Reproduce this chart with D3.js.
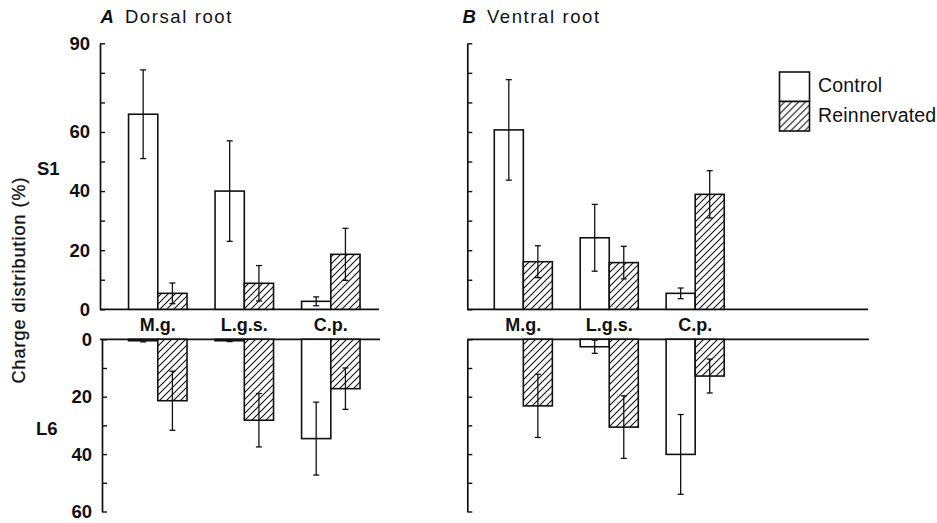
<!DOCTYPE html>
<html>
<head>
<meta charset="utf-8">
<script src="https://cdn.jsdelivr.net/npm/d3@7"></script>
<style>
  html, body { margin: 0; padding: 0; background: #fff; }
  svg { display: block; font-family: "Liberation Sans", Arial, sans-serif; }
</style>
</head>
<body>
<svg id="chart" width="937" height="523"></svg>
<script>
// ---------------- data ----------------
const categories = ["M.g.", "L.g.s.", "C.p."];
const seriesNames = ["Control", "Reinnervated"];

// Dorsal root
const dorsalS1Control = [66, 40, 2.7];
const dorsalS1ControlErr = [15, 17, 1.5];
const dorsalS1Reinn = [5.4, 8.8, 18.6];
const dorsalS1ReinnErr = [3.5, 6, 8.8];
const dorsalL6Control = [0.5, 0.5, 34.6];
const dorsalL6ControlErr = [0.4, 0.3, 12.7];
const dorsalL6Reinn = [21.4, 28.2, 17.2];
const dorsalL6ReinnErr = [10.3, 9.3, 7.2];

// Ventral root
const ventralS1Control = [60.7, 24.2, 5.4];
const ventralS1ControlErr = [17, 11.3, 1.8];
const ventralS1Reinn = [16.1, 15.8, 38.9];
const ventralS1ReinnErr = [5.4, 5.5, 8];
const ventralL6Control = [0, 2.6, 40.1];
const ventralL6ControlErr = [0, 2.3, 13.9];
const ventralL6Reinn = [23.2, 30.6, 12.8];
const ventralL6ReinnErr = [11, 10.9, 5.9];

const s1TickValues = [0, 10, 20, 30, 40, 50, 60, 70, 80, 90];
const s1TickLabels = [0, 20, 40, 60, 90];
const l6TickValues = [0, 10, 20, 30, 40, 50, 60];
const l6TickLabels = [0, 20, 40, 60];

const panelTitles = [["A", "Dorsal root"], ["B", "Ventral root"]];
const yAxisLabel = "Charge distribution (%)";
const rowLabels = ["S1", "L6"];

// ---------------- setup ----------------
const svg = d3.select("#chart");
const defs = svg.append("defs");
const pat = defs.append("pattern")
  .attr("id", "hatch").attr("patternUnits", "userSpaceOnUse")
  .attr("width", 7).attr("height", 7);
pat.append("rect").attr("width", 7).attr("height", 7).attr("fill", "#fff");
pat.append("path")
  .attr("d", "M-1,1 l2,-2 M0,7 l7,-7 M6,8 l2,-2")
  .attr("stroke", "#111").attr("stroke-width", 1.1);

const fillFor = s => s === "Control" ? "#fff" : "url(#hatch)";

const yS1 = d3.scaleLinear().domain([0, 90]).range([309.3, 43.3]);
const yL6 = d3.scaleLinear().domain([0, 60]).range([339.3, 511.5]);

const panels = [
  {
    x: d3.scaleBand().domain(categories).range([100, 388.6]).paddingInner(0.324).paddingOuter(0.33),
    axisXUpper: 100, axisXLower: 102, lineEnd: 379, labels: true,
    s1: [[dorsalS1Control, dorsalS1ControlErr], [dorsalS1Reinn, dorsalS1ReinnErr]],
    l6: [[dorsalL6Control, dorsalL6ControlErr], [dorsalL6Reinn, dorsalL6ReinnErr]],
    title: panelTitles[0], titleX: 100.5
  },
  {
    x: d3.scaleBand().domain(categories).range([467.3, 751.2]).paddingInner(0.324).paddingOuter(0.314),
    axisXUpper: 467.3, axisXLower: 467.3, lineEnd: 868, labels: false,
    s1: [[ventralS1Control, ventralS1ControlErr], [ventralS1Reinn, ventralS1ReinnErr]],
    l6: [[ventralL6Control, ventralL6ControlErr], [ventralL6Reinn, ventralL6ReinnErr]],
    title: panelTitles[1], titleX: 462.5
  }
];

function drawAxis(g, y, ticks, labels, show) {
  const ax = d3.axisLeft(y).tickValues(ticks)
    .tickSizeInner(-5).tickSizeOuter(0).tickPadding(show ? 10 : 0)
    .tickFormat(d => (show && labels.includes(d)) ? String(d) : "");
  g.call(ax);
  g.select(".domain").attr("stroke", "#111").attr("stroke-width", 1.7);
  g.selectAll(".tick line").attr("stroke", "#111").attr("stroke-width", 1.4);
  g.selectAll(".tick text").attr("fill", "#111")
    .style("font-size", "18.5px").style("font-weight", "bold")
    .style("font-family", '"Liberation Sans", Arial, sans-serif');
}

panels.forEach(p => {
  const sub = d3.scaleBand().domain(seriesNames).range([0, p.x.bandwidth()]);

  // baselines
  svg.append("line").attr("x1", p.axisXUpper).attr("x2", p.lineEnd)
    .attr("y1", yS1(0)).attr("y2", yS1(0)).attr("stroke", "#111").attr("stroke-width", 1.7);
  svg.append("line").attr("x1", p.axisXUpper).attr("x2", p.lineEnd + 1)
    .attr("y1", yL6(0)).attr("y2", yL6(0)).attr("stroke", "#111").attr("stroke-width", 1.7);

  // axes
  drawAxis(svg.append("g").attr("transform", `translate(${p.axisXUpper},0)`), yS1, s1TickValues, s1TickLabels, p.labels);
  drawAxis(svg.append("g").attr("transform", `translate(${p.axisXLower},0)`), yL6, l6TickValues, l6TickLabels, p.labels);

  // bars
  [["s1", yS1], ["l6", yL6]].forEach(([key, y]) => {
    p[key].forEach(([vals, errs], si) => {
      const sname = seriesNames[si];
      const g = svg.append("g");
      categories.forEach((c, ci) => {
        const v = vals[ci], e = errs[ci];
        if (v <= 0) return;
        const x0 = p.x(c) + sub(sname);
        const w = sub.bandwidth();
        const yTop = Math.min(y(0), y(v)), h = Math.abs(y(v) - y(0));
        g.append("rect").attr("x", x0).attr("y", yTop).attr("width", w).attr("height", h)
          .attr("fill", fillFor(sname)).attr("stroke", "#111").attr("stroke-width", 1.6);
        if (e > 0) {
          const cx = x0 + w / 2;
          const ya = y(v - e), yb = y(v + e);
          g.append("line").attr("x1", cx).attr("x2", cx).attr("y1", ya).attr("y2", yb)
            .attr("stroke", "#111").attr("stroke-width", 1.3);
          [ya, yb].forEach(yy => g.append("line").attr("x1", cx - 3).attr("x2", cx + 3)
            .attr("y1", yy).attr("y2", yy).attr("stroke", "#111").attr("stroke-width", 1.3));
        }
      });
    });
  });

  // category labels
  categories.forEach(c => {
    svg.append("text").attr("x", p.x(c) + p.x.bandwidth() / 2).attr("y", 331)
      .attr("text-anchor", "middle").style("font-size", "18px").style("font-weight", "bold")
      .attr("fill", "#111").text(c);
  });

  // title
  const t = svg.append("text").attr("x", p.titleX).attr("y", 22.5).attr("fill", "#111")
    .style("font-size", "18.5px");
  t.append("tspan").style("font-style", "italic").style("font-weight", "bold").text(p.title[0]);
  t.append("tspan").attr("dx", 11).style("letter-spacing", "1.6px").text(p.title[1]);
});

// row labels
svg.append("text").attr("x", 37).attr("y", 174.5).style("font-size", "18.5px").style("font-weight", "bold")
  .attr("fill", "#111").text(rowLabels[0]);
svg.append("text").attr("x", 36).attr("y", 434.5).style("font-size", "18.5px").style("font-weight", "bold")
  .attr("fill", "#111").text(rowLabels[1]);

// y axis label
svg.append("text").attr("transform", "translate(24.5,280) rotate(-90)")
  .attr("text-anchor", "middle").style("font-size", "18px").style("letter-spacing", "1px")
  .attr("fill", "#111").attr("stroke", "#111").attr("stroke-width", 0.3).text(yAxisLabel);

// legend
const legend = svg.append("g").attr("transform", "translate(779.5,72)");
seriesNames.forEach((s, i) => {
  legend.append("rect").attr("x", 0).attr("y", i * 29.5).attr("width", 30).attr("height", 29.5)
    .attr("fill", fillFor(s)).attr("stroke", "#111").attr("stroke-width", 1.6);
  legend.append("text").attr("x", 38.5).attr("y", 20 + i * 30).style("font-size", "19.5px")
    .style("letter-spacing", "0.2px").attr("fill", "#111").text(s);
});
</script>
</body>
</html>
